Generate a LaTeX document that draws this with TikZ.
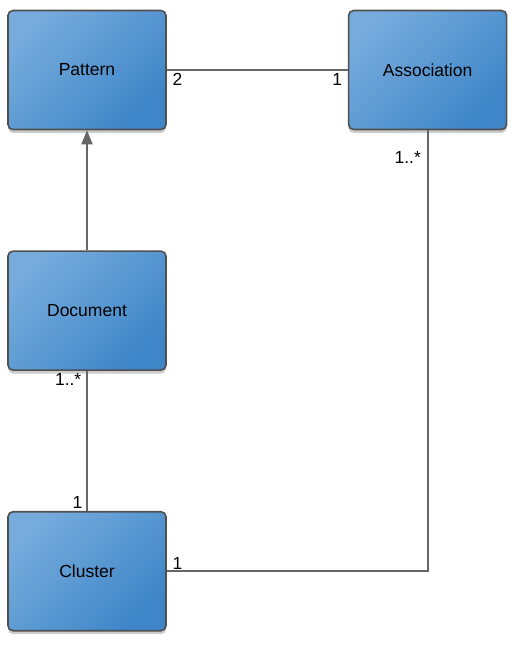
\documentclass[tikz,border=0pt]{standalone}
\usepackage{fontspec}
\setmainfont{Liberation Sans}
\usetikzlibrary{positioning,arrows.meta,shadows}
\definecolor{boxtop}{HTML}{76ABDC}
\definecolor{boxbot}{HTML}{3E86C8}
\definecolor{edge}{HTML}{505050}
\definecolor{wire}{HTML}{666666}

\begin{document}
\begin{tikzpicture}[x=1pt, y=-1pt, >={Triangle[width=11pt,length=14pt]},
    font=\fontsize{17.5}{21}\selectfont,
    cls/.style={draw=edge, line width=1.6pt, rounded corners=5pt,
      minimum width=158pt, minimum height=119pt,
      top color=boxtop, bottom color=boxbot, shading angle=45,
      drop shadow={opacity=0.4, shadow xshift=0pt, shadow yshift=-3.5pt}},
    wire/.style={draw=wire, line width=1.8pt},
    mult/.style={inner sep=1.5pt}]
  \useasboundingbox (0,0) rectangle (517,658);
  \node[cls] (pattern) at (87,70) {Pattern};
  \node[cls, right=181pt of pattern] (assoc) {Association};
  \node[cls, below=120pt of pattern] (document) {Document};
  \node[cls, below=140pt of document] (cluster) {Cluster};
  % associations
  \draw[wire] (pattern) -- (assoc);
  \draw[wire, ->] (document) -- (pattern);
  \draw[wire] (document) -- (cluster);
  \draw[wire] (assoc.south) |- (cluster.east);
  % multiplicities
  \node[mult, anchor=north west] (m1) at ([xshift=4pt,yshift=-2pt]pattern.east) {2};
  \node[mult, anchor=north east] (m2) at ([xshift=-4pt,yshift=-2pt]assoc.west) {1};
  \node[mult, anchor=north east] (m3) at ([xshift=-5pt,yshift=-19pt]assoc.south) {1..*};
  \node[mult, anchor=north east] (m4) at ([xshift=-4pt,yshift=-1pt]document.south) {1..*};
  \node[mult, anchor=south east] (m5) at ([xshift=-3pt,yshift=1pt]cluster.north) {1};
  \node[mult, anchor=south west] (m6) at ([xshift=4pt,yshift=0pt]cluster.east) {1};
\end{tikzpicture}
\end{document}
